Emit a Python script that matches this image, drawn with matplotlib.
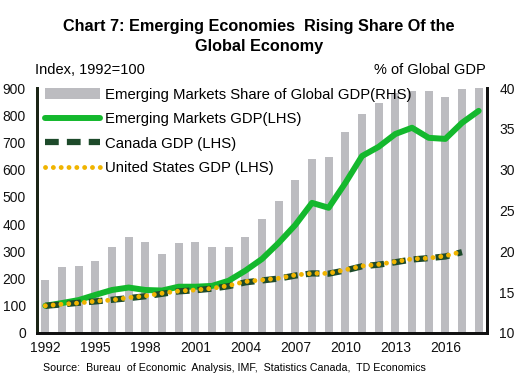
import matplotlib
matplotlib.use("Agg")
import matplotlib.pyplot as plt
import numpy as np

plt.rcParams['font.family'] = ['Liberation Sans', 'DejaVu Sans']

years = np.arange(1992, 2019)
# emerging markets share of global GDP, % (RHS)
em_share = [16.5, 18.1, 18.2, 18.8, 20.5, 21.8, 21.1, 19.7, 21.0, 21.2, 20.5, 20.5, 21.7,
            24.0, 26.2, 28.7, 31.3, 31.6, 34.6, 36.8, 38.2, 39.4, 39.6, 39.6, 38.9, 39.9, 40.0]
# index, 1992=100 (LHS)
em_gdp = [100, 110, 121, 140, 158, 167, 158, 156, 170, 170, 173, 192, 229,
          272, 331, 397, 478, 460, 551, 650, 684, 731, 754, 717, 713, 772, 816]
line_years = np.arange(1992, 2018)
canada_gdp = [100, 105, 111, 116, 122, 128, 135, 144, 153, 157, 163, 172, 186,
              193, 200, 211, 219, 218, 230, 245, 251, 260, 270, 275, 281, 297]
us_gdp = [100, 106, 110, 117, 121, 130, 136, 146, 154, 158, 164, 174, 189,
          195, 201, 213, 219, 219, 232, 246, 252, 262, 272, 275, 283, 299]
xticks = np.arange(1992, 2019, 3)

fig = plt.figure(figsize=(5.18, 3.85), dpi=100)
ax = fig.add_axes([37 / 518, 1 - 333 / 385, 450 / 518, 245 / 385])
ax2 = ax.twinx()

bars = ax2.bar(years, em_share, width=0.5, color='#bcbcc0', zorder=1,
               label='Emerging Markets Share of Global GDP(RHS)')
ax2.set_ylim(10, 40)
ax2.set_yticks(np.arange(10, 41, 5))

ax.set_zorder(ax2.get_zorder() + 1)
ax.patch.set_visible(False)

l1, = ax.plot(years, em_gdp, color='#14b82d', lw=4.3, solid_capstyle='round',
              label='Emerging Markets GDP(LHS)')
l2, = ax.plot(line_years, canada_gdp, color='#1d4a2a', lw=4.5, dashes=(2.2, 1.3),
              label='Canada GDP (LHS)')
l3, = ax.plot(line_years, us_gdp, color='#f0b400', lw=3.5, dashes=(0.01, 1.6),
              dash_capstyle='round', label='United States GDP (LHS)')

ax.set_ylim(0, 900)
ax.set_yticks(np.arange(0, 901, 100))
ax.set_xlim(1991.5, 2018.5)
ax.set_xticks(xticks)

for a in (ax, ax2):
    a.tick_params(length=0, labelsize=10, colors='#111111')
    a.spines['top'].set_visible(False)
    for s in ('left', 'right', 'bottom'):
        a.spines[s].set_linewidth(2)
        a.spines[s].set_color('#111111')
ax.spines['left'].set_color('#1a2414')
ax.tick_params(axis='y', pad=8)
ax2.tick_params(axis='y', pad=9)
ax.tick_params(axis='x', pad=6)

leg = ax.legend([bars, l1, l2, l3], [h.get_label() for h in (bars, l1, l2, l3)],
                loc='upper left', bbox_to_anchor=(0.005, 1.025), frameon=False,
                fontsize=10.7, handlelength=3.7, handletextpad=0.35, labelspacing=0.7,
                borderaxespad=0)

fig.text(0.5, 1 - 26 / 385, 'Chart 7: Emerging Economies  Rising Share Of the',
         ha='center', va='center', fontsize=11.7, fontweight='bold')
fig.text(0.5, 1 - 46 / 385, 'Global Economy', ha='center', va='center',
         fontsize=11.7, fontweight='bold')
fig.text(35 / 518, 1 - 70 / 385, 'Index, 1992=100', ha='left', va='center', fontsize=10.5)
fig.text(486 / 518, 1 - 70 / 385, '% of Global GDP', ha='right', va='center', fontsize=10.5)
fig.text(43 / 518, 1 - 368 / 385,
         'Source:  Bureau  of Economic  Analysis, IMF,  Statistics Canada,  TD Economics',
         ha='left', va='center', fontsize=7.7)

fig.savefig('out.png', dpi=100)
